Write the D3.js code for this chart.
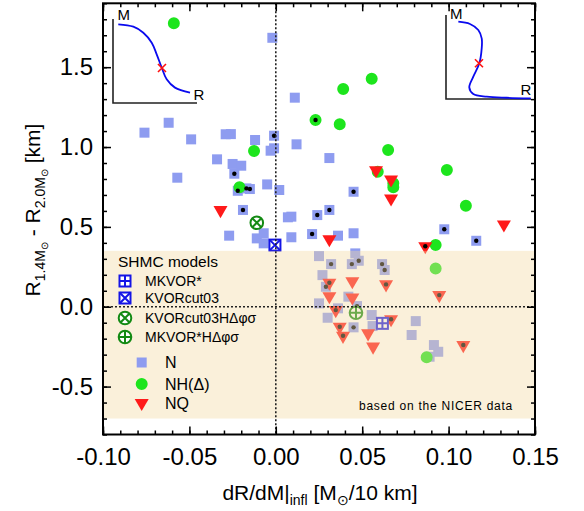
<!DOCTYPE html>
<html>
<head>
<meta charset="utf-8">
<script src="https://cdn.jsdelivr.net/npm/d3@7"></script>
<style>
  body { margin: 0; background: #fff; }
  svg { display: block; }
  text { font-family: "Liberation Sans", Arial, Helvetica, sans-serif; fill: #000; }
</style>
</head>
<body>
<svg width="584" height="511"></svg>
<script>
// data: [dR/dM, R1.4 - R2.0, marked with black dot]
var xTicks = [-0.10, -0.05, 0.00, 0.05, 0.10, 0.15];
var yTicks = [-0.5, 0.0, 0.5, 1.0, 1.5];

var nPoints = [
  [-0.002, 1.684, 0], [0.011, 1.309, 0], [-0.076, 1.090, 0], [-0.062, 1.152, 0],
  [-0.049, 1.048, 0], [-0.029, 1.080, 0], [-0.026, 1.081, 0], [-0.012, 1.044, 0],
  [-0.001, 1.071, 1], [0.012, 1.017, 0], [-0.003, 0.977, 0], [-0.001, 0.992, 0],
  [0.031, 0.931, 0], [-0.034, 0.923, 0], [-0.025, 0.894, 0], [-0.020, 0.883, 0],
  [-0.024, 0.833, 1], [-0.057, 0.808, 0], [-0.022, 0.726, 1], [-0.017, 0.741, 1],
  [-0.015, 0.737, 1], [-0.005, 0.766, 0], [0.002, 0.731, 0], [-0.019, 0.606, 1],
  [0.007, 0.560, 0], [0.009, 0.564, 0], [0.024, 0.574, 1], [0.031, 0.606, 1],
  [-0.027, 0.445, 0], [-0.011, 0.428, 0], [-0.007, 0.460, 0], [-0.007, 0.397, 0],
  [0.009, 0.435, 0], [0.021, 0.455, 1], [0.036, 0.445, 0], [0.045, 0.460, 0],
  [0.045, 0.720, 1], [0.0975, 0.485, 1], [0.116, 0.413, 1], [0.025, 0.317, 0],
  [0.032, 0.267, 1], [0.046, 0.334, 0], [0.044, 0.267, 1], [0.048, 0.288, 1],
  [0.0615, 0.267, 1], [0.063, 0.230, 1], [0.027, 0.198, 0], [0.029, 0.125, 1],
  [0.025, 0.021, 0], [0.042, 0.063, 0], [0.047, 0.004, 1], [0.030, -0.069, 0],
  [0.036, -0.010, 0], [0.0555, -0.052, 0], [0.056, -0.121, 0], [0.045, -0.129, 1],
  [0.081, -0.090, 0], [0.0786, -0.177, 0], [0.0915, -0.240, 0], [0.094, -0.282, 0],
  [0.089, -0.313, 0]
];

var nhPoints = [
  [-0.059, 1.775, 0], [0.0555, 1.428, 0], [0.039, 1.363, 0], [0.023, 1.169, 1],
  [0.037, 1.142, 0], [-0.0126, 0.975, 0], [0.065, 0.981, 0], [0.099, 0.856, 0],
  [0.059, 0.845, 0], [0.068, 0.773, 0], [0.068, 0.748, 0], [-0.021, 0.748, 0],
  [0.110, 0.632, 0], [0.0925, 0.386, 0], [0.0925, 0.240, 0], [0.0873, -0.317, 0]
];

var nqPoints = [
  [-0.032, 0.605, 0], [0.031, 0.423, 0], [0.058, 0.855, 0], [0.0667, 0.797, 0],
  [0.0667, 0.678, 0], [0.132, 0.515, 0], [0.0865, 0.379, 1], [0.0946, 0.073, 1],
  [0.1085, -0.240, 1], [0.031, 0.150, 1], [0.0443, 0.160, 0], [0.0638, 0.140, 1],
  [0.031, 0.066, 0], [0.0443, 0.058, 0], [0.0347, -0.021, 1], [0.0667, -0.078, 1],
  [0.037, -0.125, 1], [0.0389, -0.182, 1], [0.0534, -0.167, 0], [0.0563, -0.250, 0]
];

var shmcModels = [
  { name: "MKVOR*", x: 0.0617, y: -0.104, shape: "square", mark: "plus" },
  { name: "KVORcut03", x: -0.0005, y: 0.386, shape: "square", mark: "cross" },
  { name: "KVORcut03H\u0394\u03c6\u03c3", x: -0.011, y: 0.526, shape: "circle", mark: "cross" },
  { name: "MKVOR*H\u0394\u03c6\u03c3", x: 0.0464, y: -0.038, shape: "circle", mark: "plus" }
];

var nicerBand = [-0.7, 0.35];

// schematic M(R) curves for the insets, unit box coordinates [r, m]
var insetLeftCurve = [
  [0.063, 0.937], [0.242, 0.909], [0.361, 0.837], [0.461, 0.718], [0.520, 0.579],
  [0.580, 0.421], [0.639, 0.282], [0.738, 0.183], [0.917, 0.123]
];
var insetLeftCross = [0.583, 0.417];
var insetRightCurve = [
  [0.145, 0.920], [0.282, 0.893], [0.380, 0.821], [0.420, 0.722], [0.420, 0.603],
  [0.392, 0.425], [0.321, 0.266], [0.274, 0.139], [0.321, 0.060], [0.479, 0.028],
  [0.714, 0.015], [0.996, 0.008]
];
var insetRightCross = [0.388, 0.425];

// presets
var svg = d3.select("svg");
var margin = { top: 3.3, right: 49, bottom: 76.5, left: 103 },
  width = 584 - margin.left - margin.right,
  height = 511 - margin.top - margin.bottom;

var colN = "#8e9cf0", colNH = "#1de51d", colNQ = "#ff1a1a";
var colBlue = "#1414e6", colGreen = "#138a13";

var x = d3.scaleLinear().domain([-0.10, 0.15]).range([0, width]);
var y = d3.scaleLinear().domain([-0.8, 1.9]).range([height, 0]);

var g = svg.append("g")
  .attr("transform", "translate(" + margin.left + "," + margin.top + ")");

// data marks
var sq = d3.symbol().type(d3.symbolSquare).size(100);
var circ = d3.symbol().type(d3.symbolCircle).size(113);
var tri = d3.symbol().type(d3.symbolTriangle).size(85);

function drawSeries(data, sym, color, rot) {
  g.append("g").selectAll("path").data(data).enter().append("path")
    .attr("d", sym)
    .attr("fill", color)
    .attr("transform", function(d) {
      return "translate(" + x(d[0]) + "," + y(d[1]) + ")" + (rot ? " rotate(180)" : "");
    });
}
drawSeries(nPoints, sq, colN, false);
drawSeries(nhPoints, circ, colNH, false);
drawSeries(nqPoints, tri, colNQ, true);

var dotted = nPoints.concat(nhPoints, nqPoints).filter(function(d) { return d[2]; });
g.append("g").selectAll("circle").data(dotted).enter().append("circle")
  .attr("cx", function(d) { return x(d[0]); })
  .attr("cy", function(d) { return y(d[1]); })
  .attr("r", 2.2)
  .attr("fill", "#000");

function shmcMarker(sel, shape, mark) {
  var col = shape === "square" ? colBlue : colGreen;
  var h = shape === "square" ? 5.5 : 6.3;
  if (shape === "square") {
    sel.append("rect").attr("x", -h).attr("y", -h).attr("width", 2 * h).attr("height", 2 * h)
      .attr("fill", "#fff").attr("stroke", col).attr("stroke-width", 2);
  } else {
    sel.append("circle").attr("r", h)
      .attr("fill", "#fff").attr("stroke", col).attr("stroke-width", 2);
  }
  var k = shape === "square" ? h : h * 0.72;
  if (mark === "plus") {
    sel.append("path").attr("d", "M" + (-h) + ",0H" + h + "M0," + (-h) + "V" + h)
      .attr("stroke", col).attr("stroke-width", 2);
  } else {
    sel.append("path").attr("d", "M" + (-k) + "," + (-k) + "L" + k + "," + k + "M" + (-k) + "," + k + "L" + k + "," + (-k))
      .attr("stroke", col).attr("stroke-width", 2);
  }
}

shmcModels.forEach(function(m) {
  var s = g.append("g").attr("transform", "translate(" + x(m.x) + "," + y(m.y) + ")");
  shmcMarker(s, m.shape, m.mark);
});

// NICER band, drawn over the marks with transparency
g.append("rect")
  .attr("x", 0).attr("width", width)
  .attr("y", y(nicerBand[1]))
  .attr("height", y(nicerBand[0]) - y(nicerBand[1]))
  .attr("fill", "#f2d9a2")
  .attr("opacity", 0.4);

// zero lines
g.append("line").attr("x1", x(0)).attr("x2", x(0)).attr("y1", 0).attr("y2", height)
  .attr("stroke", "#222").attr("stroke-width", 1.6).attr("stroke-dasharray", "2,2");
g.append("line").attr("x1", 0).attr("x2", width).attr("y1", y(0)).attr("y2", y(0))
  .attr("stroke", "#222").attr("stroke-width", 1.6).attr("stroke-dasharray", "2,2");

// legend
var leg = g.append("g");
leg.append("text").attr("x", 118 - margin.left).attr("y", 267 - margin.top)
  .style("font-size", "15.5px").text("SHMC models");
var legY = [281, 298, 318, 337];
shmcModels.forEach(function(m, i) {
  var s = leg.append("g").attr("transform", "translate(" + (125 - margin.left) + "," + (legY[i] - margin.top) + ")");
  shmcMarker(s, m.shape, m.mark);
  leg.append("text").attr("x", 145 - margin.left).attr("y", legY[i] - margin.top + 5)
    .style("font-size", "14px").text(m.name);
});
var seriesLeg = [
  { name: "N", sym: sq, col: colN, rot: false, y: 362.5 },
  { name: "NH(\u0394)", sym: circ, col: colNH, rot: false, y: 384 },
  { name: "NQ", sym: tri, col: colNQ, rot: true, y: 403 }
];
seriesLeg.forEach(function(s) {
  leg.append("path").attr("d", s.sym).attr("fill", s.col)
    .attr("transform", "translate(" + (141.7 - margin.left) + "," + (s.y - margin.top) + ")" + (s.rot ? " rotate(180)" : ""));
  leg.append("text").attr("x", 165 - margin.left).attr("y", s.y - margin.top + 6)
    .style("font-size", "16px").text(s.name);
});

g.append("text").attr("x", 513 - margin.left).attr("y", 410 - margin.top)
  .attr("text-anchor", "end")
  .style("font-size", "12px").style("letter-spacing", "0.75px")
  .text("based on the NICER data");

// insets
function inset(x0, x1, y0, y1, curve, cross, mPos, rPos) {
  var ix = d3.scaleLinear().domain([0, 1]).range([x0, x1]);
  var iy = d3.scaleLinear().domain([0, 1]).range([y1, y0]);
  var ig = svg.append("g");
  ig.append("path")
    .attr("d", "M" + x0 + "," + y0 + "V" + y1 + "H" + x1)
    .attr("fill", "none").attr("stroke", "#222").attr("stroke-width", 1.6);
  ig.append("path")
    .attr("d", d3.line().x(function(d) { return ix(d[0]); }).y(function(d) { return iy(d[1]); })
      .curve(d3.curveCatmullRom)(curve))
    .attr("fill", "none").attr("stroke", "#0a0aee").attr("stroke-width", 1.8);
  var cx = ix(cross[0]), cy = iy(cross[1]), c = 4;
  ig.append("path")
    .attr("d", "M" + (cx - c) + "," + (cy - c) + "L" + (cx + c) + "," + (cy + c) + "M" + (cx - c) + "," + (cy + c) + "L" + (cx + c) + "," + (cy - c))
    .attr("stroke", "#ff1010").attr("stroke-width", 1.6);
  ig.append("text").attr("x", mPos[0]).attr("y", mPos[1]).style("font-size", "15px").text("M");
  ig.append("text").attr("x", rPos[0]).attr("y", rPos[1]).style("font-size", "15px").text("R");
}
inset(113, 197, 19, 103, insetLeftCurve, insetLeftCross, [117.5, 19.5], [193.5, 99.5]);
inset(446, 531, 15, 99, insetRightCurve, insetRightCross, [450, 19], [520.5, 95]);

// axes
var fmtX = function(d) { return d.toFixed(2); };
var fmtY = function(d) { return d.toFixed(1); };

function styleAxis(sel) {
  sel.select(".domain").remove();
  sel.selectAll(".tick line").attr("stroke", "#000").attr("stroke-width", 1.5);
}

g.append("g").attr("transform", "translate(0," + height + ")")
  .call(d3.axisBottom(x).ticks(25).tickSize(-4).tickFormat(""))
  .call(styleAxis);
g.append("g").attr("transform", "translate(0," + height + ")")
  .call(d3.axisBottom(x).tickValues(xTicks).tickSize(-8).tickPadding(13).tickFormat(fmtX))
  .call(styleAxis)
  .selectAll("text").style("font-size", "24px").attr("fill", "#000");
g.append("g")
  .call(d3.axisTop(x).ticks(25).tickSize(-4).tickFormat(""))
  .call(styleAxis);
g.append("g")
  .call(d3.axisTop(x).tickValues(xTicks).tickSize(-8).tickFormat(""))
  .call(styleAxis);

g.append("g")
  .call(d3.axisLeft(y).ticks(27).tickSize(-4).tickFormat(""))
  .call(styleAxis);
g.append("g")
  .call(d3.axisLeft(y).tickValues(yTicks).tickSize(-8).tickPadding(10).tickFormat(fmtY))
  .call(styleAxis)
  .selectAll("text").style("font-size", "24px").attr("fill", "#000");
g.append("g").attr("transform", "translate(" + width + ",0)")
  .call(d3.axisRight(y).ticks(27).tickSize(-4).tickFormat(""))
  .call(styleAxis);
g.append("g").attr("transform", "translate(" + width + ",0)")
  .call(d3.axisRight(y).tickValues(yTicks).tickSize(-8).tickFormat(""))
  .call(styleAxis);

g.append("rect").attr("width", width).attr("height", height)
  .attr("fill", "none").attr("stroke", "#000").attr("stroke-width", 2);

// axis titles
var xt = svg.append("text").attr("x", 320).attr("y", 499.5)
  .attr("text-anchor", "middle").style("font-size", "21px");
xt.append("tspan").text("dR/dM|");
xt.append("tspan").attr("dy", 5).style("font-size", "14px").text("infl");
xt.append("tspan").attr("dy", -5).text(" [M");
xt.append("tspan").attr("dy", 5).style("font-size", "14px").text("\u2299");
xt.append("tspan").attr("dy", -5).text("/10 km]");

var yt = svg.append("text")
  .attr("transform", "translate(40,210) rotate(-90)")
  .attr("text-anchor", "middle").style("font-size", "21px");
yt.append("tspan").text("R");
yt.append("tspan").attr("dy", 5).style("font-size", "14px").text("1.4M");
yt.append("tspan").attr("dy", 3).style("font-size", "10px").text("\u2299");
yt.append("tspan").attr("dy", -8).text(" - R");
yt.append("tspan").attr("dy", 5).style("font-size", "14px").text("2.0M");
yt.append("tspan").attr("dy", 3).style("font-size", "10px").text("\u2299");
yt.append("tspan").attr("dy", -8).text(" [km]");
</script>
</body>
</html>
